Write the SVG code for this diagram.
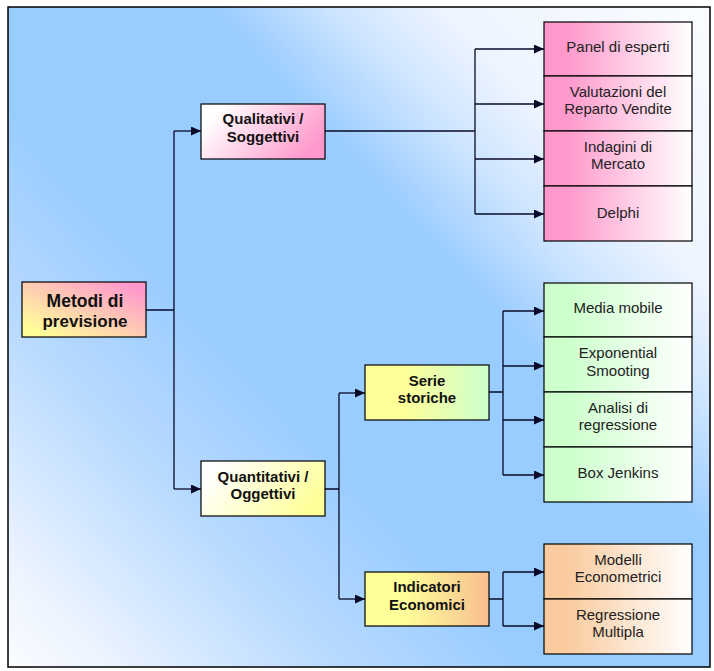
<svg xmlns="http://www.w3.org/2000/svg" width="714" height="671" viewBox="0 0 714 671">
<defs>
<linearGradient id="bg" gradientUnits="userSpaceOnUse" x1="8" y1="667" x2="710" y2="7">
<stop offset="0" stop-color="#FAFCFF"/>
<stop offset="0.07" stop-color="#EEF5FF"/>
<stop offset="0.25" stop-color="#B8DAFF"/>
<stop offset="0.4" stop-color="#99CCFF"/>
<stop offset="0.62" stop-color="#99CCFF"/>
<stop offset="0.72" stop-color="#D0E6FF"/>
<stop offset="0.8" stop-color="#EEF5FF"/>
<stop offset="1" stop-color="#FAFCFF"/>
</linearGradient>
<linearGradient id="gRoot" x1="0" y1="1" x2="1" y2="0">
<stop offset="0.1" stop-color="#FFFF99"/>
<stop offset="0.9" stop-color="#FF99CC"/>
</linearGradient>
<linearGradient id="gQual" x1="0" y1="0.3" x2="1" y2="0.7">
<stop offset="0.05" stop-color="#FFFFFF"/>
<stop offset="0.95" stop-color="#FF99CC"/>
</linearGradient>
<linearGradient id="gQuan" x1="0" y1="0.3" x2="1" y2="0.7">
<stop offset="0.05" stop-color="#FFFFFF"/>
<stop offset="0.95" stop-color="#FFFF99"/>
</linearGradient>
<linearGradient id="gSerie" x1="0" y1="0" x2="1" y2="0">
<stop offset="0.3" stop-color="#FFFF99"/>
<stop offset="1" stop-color="#CCFFCC"/>
</linearGradient>
<linearGradient id="gInd" x1="0" y1="0" x2="1" y2="0">
<stop offset="0.3" stop-color="#FFFF99"/>
<stop offset="1" stop-color="#F8BF90"/>
</linearGradient>
<linearGradient id="gPink" x1="0" y1="0" x2="1" y2="0">
<stop offset="0.15" stop-color="#FF99CC"/>
<stop offset="1" stop-color="#FFFFFF"/>
</linearGradient>
<linearGradient id="gGreen" x1="0" y1="0" x2="1" y2="0">
<stop offset="0.15" stop-color="#CCFFCC"/>
<stop offset="1" stop-color="#FFFFFF"/>
</linearGradient>
<linearGradient id="gOrange" x1="0" y1="0" x2="1" y2="0">
<stop offset="0.15" stop-color="#FACB9F"/>
<stop offset="1" stop-color="#FFFFFF"/>
</linearGradient>
<marker id="arr" markerUnits="userSpaceOnUse" markerWidth="10" markerHeight="9" viewBox="0 0 10 9" refX="10" refY="4.5" orient="auto">
<path d="M0,0 L10,4.5 L0,9 z" fill="#0A0A28"/>
</marker>
</defs>
<style>
.box{stroke:#000;stroke-width:1.2}
.bt{font-family:"Liberation Sans",Arial,sans-serif;font-weight:bold;font-size:15px;fill:#111;text-anchor:middle}
.rt{font-family:"Liberation Sans",Arial,sans-serif;font-size:15px;fill:#222;text-anchor:middle}
.c{fill:none;stroke:#0A0A28;stroke-width:1.3}
.a{marker-end:url(#arr)}
</style>
<rect x="0" y="0" width="714" height="671" fill="#FFFFFF"/>
<rect x="8" y="7" width="702" height="660" fill="url(#bg)" stroke="#000" stroke-width="1.5"/>

<g id="connectors">
<path class="c" d="M146,310 H174 M174,131 V489"/>
<path class="c a" d="M174,131 H201"/>
<path class="c a" d="M174,489 H201"/>
<path class="c" d="M325,131 H475 M475,49 V214"/>
<path class="c a" d="M475,49 H544"/>
<path class="c a" d="M475,104 H544"/>
<path class="c a" d="M475,159 H544"/>
<path class="c a" d="M475,214 H544"/>
<path class="c" d="M325,489 H339 M339,393 V599"/>
<path class="c a" d="M339,393 H365"/>
<path class="c a" d="M339,599 H365"/>
<path class="c" d="M489,392 H503 M503,311 V475"/>
<path class="c a" d="M503,311 H544"/>
<path class="c a" d="M503,366 H544"/>
<path class="c a" d="M503,420 H544"/>
<path class="c a" d="M503,475 H544"/>
<path class="c" d="M489,599 H503 M503,572 V626"/>
<path class="c a" d="M503,572 H544"/>
<path class="c a" d="M503,626 H544"/>
</g>

<g id="root">
<rect class="box" x="22" y="282" width="124" height="55" fill="url(#gRoot)"/>
<text class="bt" style="font-size:17.5px" x="85" y="307">Metodi di</text>
<text class="bt" style="font-size:17px" x="85" y="327">previsione</text>
</g>
<g id="qualitativi">
<rect class="box" x="201" y="104" width="124" height="55" fill="url(#gQual)"/>
<text class="bt" x="263" y="124">Qualitativi /</text>
<text class="bt" x="263" y="142">Soggettivi</text>
</g>
<g id="quantitativi">
<rect class="box" x="201" y="461" width="124" height="55" fill="url(#gQuan)"/>
<text class="bt" x="263" y="482">Quantitativi /</text>
<text class="bt" x="263" y="499">Oggettivi</text>
</g>
<g id="serie">
<rect class="box" x="365" y="365" width="124" height="55" fill="url(#gSerie)"/>
<text class="bt" x="427" y="386">Serie</text>
<text class="bt" x="427" y="403">storiche</text>
</g>
<g id="indicatori">
<rect class="box" x="365" y="572" width="124" height="54" fill="url(#gInd)"/>
<text class="bt" x="427" y="592">Indicatori</text>
<text class="bt" x="427" y="610">Economici</text>
</g>

<g id="panel">
<rect class="box" x="544" y="22" width="148" height="54" fill="url(#gPink)"/>
<text class="rt" x="618" y="52">Panel di esperti</text>
</g>
<g id="valutazioni">
<rect class="box" x="544" y="76" width="148" height="55" fill="url(#gPink)"/>
<text class="rt" x="618" y="97">Valutazioni del</text>
<text class="rt" x="618" y="114">Reparto Vendite</text>
</g>
<g id="indagini">
<rect class="box" x="544" y="131" width="148" height="55" fill="url(#gPink)"/>
<text class="rt" x="618" y="152">Indagini di</text>
<text class="rt" x="618" y="169">Mercato</text>
</g>
<g id="delphi">
<rect class="box" x="544" y="186" width="148" height="55" fill="url(#gPink)"/>
<text class="rt" x="618" y="218">Delphi</text>
</g>

<g id="media">
<rect class="box" x="544" y="283" width="148" height="54" fill="url(#gGreen)"/>
<text class="rt" x="618" y="313">Media mobile</text>
</g>
<g id="exponential">
<rect class="box" x="544" y="337" width="148" height="55" fill="url(#gGreen)"/>
<text class="rt" x="618" y="358">Exponential</text>
<text class="rt" x="618" y="376">Smooting</text>
</g>
<g id="analisi">
<rect class="box" x="544" y="392" width="148" height="55" fill="url(#gGreen)"/>
<text class="rt" x="618" y="413">Analisi di</text>
<text class="rt" x="618" y="430">regressione</text>
</g>
<g id="box">
<rect class="box" x="544" y="447" width="148" height="55" fill="url(#gGreen)"/>
<text class="rt" x="618" y="478">Box Jenkins</text>
</g>

<g id="modelli">
<rect class="box" x="544" y="544" width="148" height="55" fill="url(#gOrange)"/>
<text class="rt" x="618" y="565">Modelli</text>
<text class="rt" x="618" y="582">Econometrici</text>
</g>
<g id="regressione">
<rect class="box" x="544" y="599" width="148" height="55" fill="url(#gOrange)"/>
<text class="rt" x="618" y="620">Regressione</text>
<text class="rt" x="618" y="637">Multipla</text>
</g>
</svg>
